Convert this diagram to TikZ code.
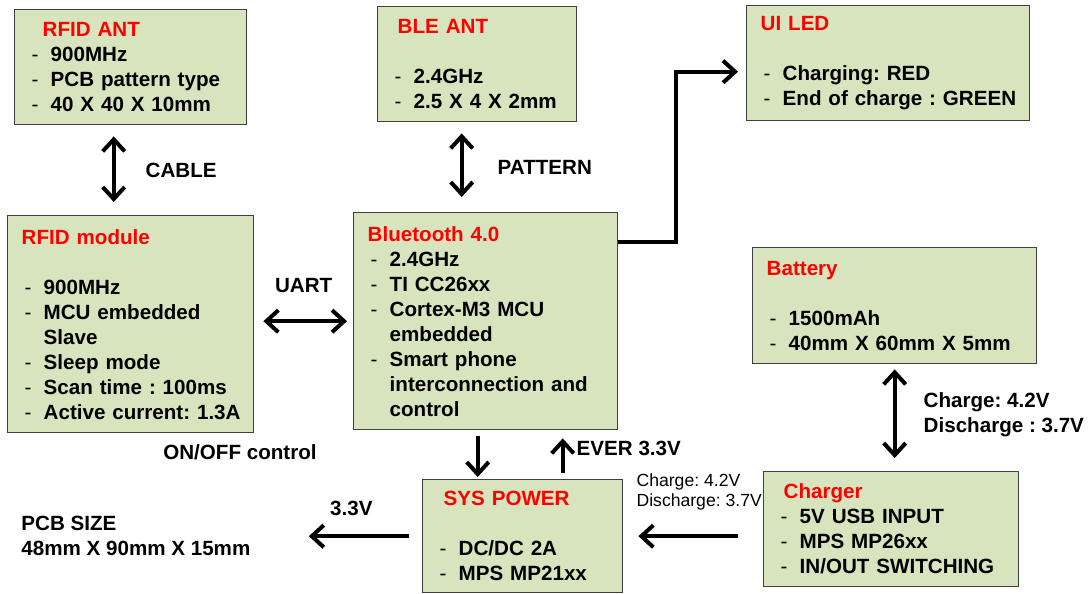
\documentclass[tikz,border=0pt]{standalone}
\usepackage{fontspec}
\setmainfont{Liberation Sans}
\usepackage{xcolor}
\usepackage{tikz}
\usetikzlibrary{arrows.meta,positioning,calc}
\frenchspacing
\definecolor{BoxFill}{HTML}{D7E4BD}
\definecolor{BoxLine}{HTML}{404040}
\definecolor{TitleRed}{HTML}{FF0000}
\newcommand{\dashitem}[1]{\mbox{\makebox[11pt][l]{\mdseries\hspace{1.5pt}-}#1}}
\newcommand{\contline}[1]{\mbox{\hspace*{11pt}#1}}
\newcommand{\boxtitle}[2][0pt]{\hspace*{#1}\mbox{\textcolor{TitleRed}{#2}}}
\tikzset{
  blockbox/.style={draw=BoxLine,fill=BoxFill,line width=0.7pt,anchor=north west,align=left,
              inner xsep=7pt,inner ysep=0pt,font=\fontsize{10.3}{12.5}\selectfont\bfseries},
  flow/.style={-{Straight Barb[length=6pt,width=11pt]},line width=2pt},
  bothflow/.style={{Straight Barb[length=6pt,width=11pt]}-{Straight Barb[length=6pt,width=11pt]},line width=2pt},
  lbl/.style={font=\fontsize{10.3}{12.5}\selectfont\bfseries,align=left,inner sep=0pt},
  smalllbl/.style={font=\fontsize{8.8}{10}\selectfont,align=left,inner sep=0pt}
}

\begin{document}
\begin{tikzpicture}[x=0.5pt,y=-0.5pt]
  \useasboundingbox (0,0) rectangle (1088,594);
  % blocks
  \node[blockbox,minimum width=116pt,minimum height=57.5pt,text width=102pt] (rfidant) at (14,9)
    {\boxtitle[7pt]{RFID ANT}\\\dashitem{900MHz}\\\dashitem{PCB pattern type}\\\dashitem{40 X 40 X 10mm}};
  \node[blockbox,minimum width=99.5pt,minimum height=57.5pt,text width=85.5pt] (bleant) at (377,6)
    {\boxtitle[3pt]{BLE ANT}\\[12.5pt]\dashitem{2.4GHz}\\\dashitem{2.5 X 4 X 2mm}};
  \node[blockbox,minimum width=141.5pt,minimum height=57.5pt,text width=127.5pt] (uiled) at (746,5)
    {\boxtitle{UI LED}\\[12.5pt]\dashitem{Charging: RED}\\\dashitem{End of charge : GREEN}};
  \node[blockbox,minimum width=123pt,minimum height=108.5pt,text width=109pt] (rfidmod) at (7,215)
    {\boxtitle{RFID module}\\[12.5pt]\dashitem{900MHz}\\\dashitem{MCU embedded}\\\contline{Slave}\\
     \dashitem{Sleep mode}\\\dashitem{Scan time : 100ms}\\\dashitem{Active current: 1.3A}};
  \node[blockbox,minimum width=132pt,minimum height=108.5pt,text width=118pt] (bt) at (353,212)
    {\boxtitle{Bluetooth 4.0}\\\dashitem{2.4GHz}\\\dashitem{TI CC26xx}\\\dashitem{Cortex-M3 MCU}\\
     \contline{embedded}\\\dashitem{Smart phone}\\\contline{interconnection and}\\\contline{control}};
  \node[blockbox,minimum width=142pt,minimum height=58pt,text width=128pt] (battery) at (752,247)
    {\boxtitle{Battery}\\[12.5pt]\dashitem{1500mAh}\\\dashitem{40mm X 60mm X 5mm}};
  \node[blockbox,minimum width=127.5pt,minimum height=57.5pt,text width=113.5pt] (charger) at (763,471)
    {\boxtitle[3pt]{Charger}\\\dashitem{5V USB INPUT}\\\dashitem{MPS MP26xx}\\\dashitem{IN/OUT SWITCHING}};
  \node[blockbox,minimum width=100pt,minimum height=56.5pt,text width=86pt] (syspower) at (422,479)
    {\boxtitle[3.5pt]{SYS POWER}\\[12.5pt]\dashitem{DC/DC 2A}\\\dashitem{MPS MP21xx}};
  % free texts
  \node[lbl] (onoff) at (240,452) {ON/OFF control};
  \node[lbl,anchor=west] (pcb) at (21,536) {PCB SIZE\\48mm X 90mm X 15mm};
  % connectors
  \draw[bothflow,shorten <=5.5pt,shorten >=6.5pt] ([xshift=-8.5pt]rfidant.south) -- ([xshift=-8.5pt]rfidmod.north)
    node[lbl,midway,right=15pt]{CABLE};
  \draw[bothflow,shorten <=5.5pt,shorten >=7.5pt] ([xshift=-12pt]bt.north |- bleant.south) -- ([xshift=-12pt]bt.north)
    node[lbl,midway,right=17pt]{PATTERN};
  \draw[bothflow,shorten <=4.5pt,shorten >=3pt] (rfidmod.east |- bt.west) -- (bt.west)
    node[lbl,midway,above=13.5pt]{UART};
  \draw[flow,shorten >=4pt] ([yshift=-15pt]bt.north east) -- ++(29pt,0) |- ([yshift=-4.25pt]uiled.west);
  \draw[bothflow,shorten <=2.5pt,shorten >=6.5pt] (battery.south) -- (battery.south |- charger.north)
    node[lbl,midway,right=13.5pt,yshift=1.5pt]{Charge: 4.2V\\Discharge : 3.7V};
  \draw[flow,shorten <=12.5pt,shorten >=7.5pt] (charger.west |- syspower.east) -- (syspower.east)
    node[smalllbl,midway,above=12pt,xshift=3pt]{Charge: 4.2V\\Discharge: 3.7V};
  \draw[flow,shorten <=6.5pt,shorten >=29pt] (syspower.west) -- (syspower.west -| pcb.east)
    node[lbl,midway,above=9pt,xshift=7.5pt]{3.3V};
  \draw[flow,shorten <=3pt,shorten >=1pt] ([xshift=-4pt]bt.south) -- ([xshift=-4pt]bt.south |- syspower.north);
  \draw[flow,shorten <=3pt,shorten >=4pt] ([xshift=38.5pt]bt.south |- syspower.north) -- ([xshift=38.5pt]bt.south)
    node[lbl,pos=0.62,right=6pt]{EVER 3.3V};
\end{tikzpicture}
\end{document}
